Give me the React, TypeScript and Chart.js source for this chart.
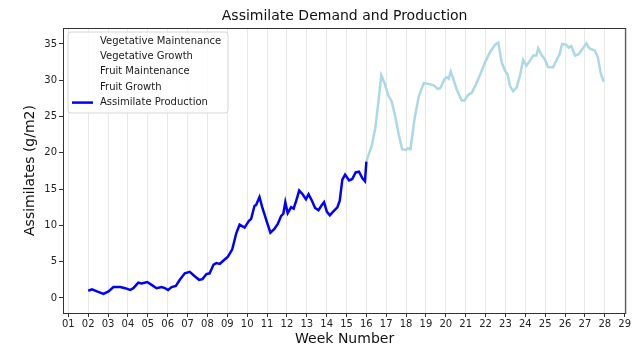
import React, { useEffect, useRef } from "react";
import { Chart, registerables } from "chart.js";

Chart.register(...registerables);

const chartTitle = "Assimilate Demand and Production";
const xAxisTitle = "Week Number";
const yAxisTitle = "Assimilates (g/m2)";

const legendLabels = [
  "Vegetative Maintenance",
  "Vegetative Growth",
  "Fruit Maintenance",
  "Fruit Growth",
  "Assimilate Production",
];

const weekTickLabels = [
  "01","02","03","04","05","06","07","08","09","10","11","12","13","14","15",
  "16","17","18","19","20","21","22","23","24","25","26","27","28","29",
];

const productionWeeks = [
  2.00,2.19,2.44,2.77,3.02,3.27,3.61,3.86,4.11,4.27,4.52,4.69,4.97,5.19,5.44,5.69,5.86,6.02,6.20,6.41,
  6.61,6.86,7.11,7.36,7.58,7.75,7.95,8.11,8.31,8.45,8.62,8.78,9.03,9.25,9.45,9.62,9.87,10.08,10.20,10.37,
  10.45,10.62,10.78,10.98,11.17,11.37,11.54,11.71,11.82,11.92,12.04,12.21,12.34,12.49,12.62,12.79,12.96,13.09,13.26,13.42,
  13.59,13.76,13.87,14.01,14.16,14.33,14.54,14.66,14.79,14.93,15.13,15.29,15.46,15.63,15.80,15.93,16.00,
];
const productionValues = [
  1.0,1.2,0.9,0.55,0.9,1.5,1.5,1.35,1.1,1.35,2.1,2.0,2.2,1.8,1.35,1.5,1.35,1.1,1.5,1.65,
  2.5,3.4,3.6,3.0,2.5,2.6,3.3,3.4,4.6,4.8,4.7,5.1,5.7,6.7,8.9,10.1,9.7,10.6,10.9,12.7,
  12.8,13.9,12.3,10.6,9.0,9.5,10.2,11.3,11.6,13.2,11.7,12.5,12.3,13.6,14.8,14.3,13.6,14.3,13.4,12.4,
  12.1,12.8,13.2,11.9,11.4,11.9,12.5,13.4,16.3,17.0,16.2,16.4,17.3,17.4,16.5,16.1,18.8,
];

const forecastWeeks = [
  16.00,16.28,16.45,16.61,16.75,16.92,17.09,17.27,17.47,17.63,17.80,17.97,18.08,18.22,18.43,18.64,18.89,19.14,19.39,19.59,
  19.72,19.94,20.05,20.14,20.25,20.39,20.55,20.80,20.94,21.10,21.31,21.51,21.73,21.98,22.23,22.48,22.64,22.81,22.98,23.11,
  23.23,23.39,23.56,23.73,23.89,24.06,24.23,24.40,24.56,24.65,24.81,24.98,25.15,25.40,25.56,25.73,25.85,26.06,26.18,26.31,
  26.51,26.68,26.90,27.07,27.22,27.49,27.65,27.80,27.95,
];
const forecastValues = [
  18.8,21.1,23.4,27.1,30.7,29.6,28.0,27.1,24.8,22.5,20.5,20.4,20.6,20.5,24.8,27.8,29.6,29.5,29.3,28.8,
  28.9,30.2,30.4,30.2,31.2,30.1,28.7,27.2,27.2,27.9,28.3,29.4,30.8,32.5,33.9,34.9,35.2,32.5,31.3,30.8,
  29.2,28.5,29.0,30.6,32.8,32.0,32.7,33.4,33.4,34.4,33.5,32.9,31.8,31.8,32.7,33.6,35.0,34.9,34.5,34.7,
  33.4,33.6,34.4,35.1,34.4,34.1,33.2,30.9,29.8,
];

const FONT = "'DejaVu Sans', sans-serif";

const framePlugin = {
  id: "frameAndText",
  afterDatasetsDraw(chart: any) {
    const { ctx, chartArea } = chart;
    const { left, right, top, bottom } = chartArea;
    ctx.save();
    // frame
    ctx.strokeStyle = "#333";
    ctx.lineWidth = 1;
    ctx.strokeRect(left + 0.5, top + 0.5, right - left - 1, bottom - top);
    // title
    ctx.fillStyle = "#111";
    ctx.font = `14px ${FONT}`;
    ctx.textAlign = "center";
    ctx.textBaseline = "middle";
    ctx.fillText(chartTitle, (left + right) / 2, 16);
    // legend
    const items = chart.data.datasets.filter((d: any) => d.label);
    const bx = left + 5, by = top + 4, bw = 160, bh = 81;
    ctx.beginPath();
    const r = 3;
    ctx.moveTo(bx + r, by);
    ctx.lineTo(bx + bw - r, by);
    ctx.quadraticCurveTo(bx + bw, by, bx + bw, by + r);
    ctx.lineTo(bx + bw, by + bh - r);
    ctx.quadraticCurveTo(bx + bw, by + bh, bx + bw - r, by + bh);
    ctx.lineTo(bx + r, by + bh);
    ctx.quadraticCurveTo(bx, by + bh, bx, by + bh - r);
    ctx.lineTo(bx, by + r);
    ctx.quadraticCurveTo(bx, by, bx + r, by);
    ctx.closePath();
    ctx.fillStyle = "rgba(255,255,255,0.85)";
    ctx.fill();
    ctx.strokeStyle = "#d6d6d6";
    ctx.lineWidth = 1;
    ctx.stroke();
    ctx.font = `10px ${FONT}`;
    ctx.textAlign = "left";
    ctx.textBaseline = "middle";
    items.forEach((d: any, i: number) => {
      const y = by + 9 + i * 15.4;
      if (d.borderColor && d.borderColor !== "transparent") {
        ctx.strokeStyle = d.borderColor;
        ctx.lineWidth = 2.5;
        ctx.beginPath();
        ctx.moveTo(bx + 4, y);
        ctx.lineTo(bx + 25, y);
        ctx.stroke();
      }
      ctx.fillStyle = "#1a1a1a";
      ctx.fillText(d.label, bx + 32, y);
    });
    ctx.restore();
  },
};

export default function App() {
  const ref = useRef<HTMLCanvasElement | null>(null);
  useEffect(() => {
    if (!ref.current) return;
    const toPts = (xs: number[], ys: number[]) => xs.map((x, i) => ({ x, y: ys[i] }));
    const emptySets = legendLabels.slice(0, 4).map((label) => ({
      label,
      data: [] as any[],
      borderColor: "transparent",
      backgroundColor: "transparent",
    }));
    const chart = new Chart(ref.current, {
      type: "line",
      data: {
        datasets: [
          ...emptySets,
          {
            label: legendLabels[4],
            data: toPts(productionWeeks, productionValues),
            borderColor: "#0000ff",
            borderWidth: 2.5,
            pointRadius: 0,
            tension: 0,
            order: 0,
          },
          {
            label: "",
            data: toPts(forecastWeeks, forecastValues),
            borderColor: "#add8e6",
            borderWidth: 2.5,
            pointRadius: 0,
            tension: 0,
            order: 1,
          },
        ],
      },
      options: {
        responsive: false,
        animation: false,
        devicePixelRatio: 1,
        layout: { padding: { top: 28, right: 2, left: 0, bottom: 0 } },
        plugins: {
          legend: { display: false },
          title: { display: false },
          tooltip: { enabled: false },
        },
        scales: {
          x: {
            type: "linear",
            min: 0.73,
            max: 29.08,
            border: { display: false },
            grid: {
              color: "rgba(0,0,0,0.09)",
              tickColor: "#333",
              tickLength: 4,
              drawOnChartArea: true,
            },
            ticks: {
              stepSize: 1,
              includeBounds: false,
              autoSkip: false,
              maxRotation: 0,
              minRotation: 0,
              padding: 1,
              color: "#222",
              font: { family: FONT, size: 10 },
              callback: (v: any) => weekTickLabels[Math.round(Number(v)) - 1] ?? "",
            },
            title: {
              display: true,
              text: xAxisTitle,
              color: "#111",
              font: { family: FONT, size: 14, lineHeight: 1 },
              padding: { top: 0, bottom: 1 },
            },
            afterFit: (s: any) => {
              s.height = 34;
            },
          },
          y: {
            type: "linear",
            min: -2.07,
            max: 37.2,
            border: { display: false },
            grid: {
              drawOnChartArea: false,
              tickColor: "#333",
              tickLength: 4,
            },
            ticks: {
              stepSize: 5,
              includeBounds: false,
              padding: 2,
              color: "#222",
              font: { family: FONT, size: 10 },
            },
            title: {
              display: true,
              text: yAxisTitle,
              color: "#111",
              font: { family: FONT, size: 14 },
              padding: { top: 22, bottom: 0 },
            },
            afterFit: (s: any) => {
              s.width = 63;
            },
          },
        },
      },
      plugins: [framePlugin],
    });
    return () => chart.destroy();
  }, []);
  return (
    <div style={{ position: "fixed", left: 0, top: 0, width: 632, height: 347, background: "#fff" }}>
      <canvas ref={ref} width={632} height={347} style={{ width: 632, height: 347 }} />
    </div>
  );
}
